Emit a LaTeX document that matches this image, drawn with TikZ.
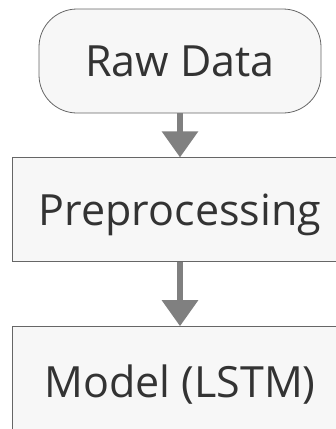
\documentclass[tikz,border=0pt]{standalone}
\usepackage{fontspec}
\setmainfont{Open Sans}
\usetikzlibrary{arrows.meta,positioning}
\definecolor{boxfill}{RGB}{247,247,247}
\definecolor{boxline}{RGB}{102,102,102}
\definecolor{flowcol}{RGB}{128,128,128}
\definecolor{textcol}{RGB}{51,51,51}

\begin{document}
\begin{tikzpicture}[x=1pt,y=-1pt,>={Triangle[width=35pt,length=26pt]},
    font=\fontsize{43}{50}\selectfont]
  \tikzset{
    stepbox/.style={draw=boxline,fill=boxfill,text=textcol,line width=0.8pt,
      minimum height=104pt,inner sep=0pt,text height=31pt,text depth=0pt},
    flow/.style={->,draw=flowcol,line width=6pt}
  }
  \useasboundingbox (0,0) rectangle (336,429);
  \clip (0,0) rectangle (336,429);
  % pipeline steps
  \node[stepbox,rounded corners=38pt,minimum width=282pt] (raw) at (180,61) {Raw Data};
  \node[stepbox,minimum width=336pt,below=44pt of raw] (prep) {Preprocessing};
  \node[stepbox,minimum width=336pt,minimum height=110pt,below=64pt of prep] (model) {Model (LSTM)};
  % arrows
  \draw[flow] (raw) -- (prep);
  \draw[flow] (prep) -- (model);
\end{tikzpicture}
\end{document}
